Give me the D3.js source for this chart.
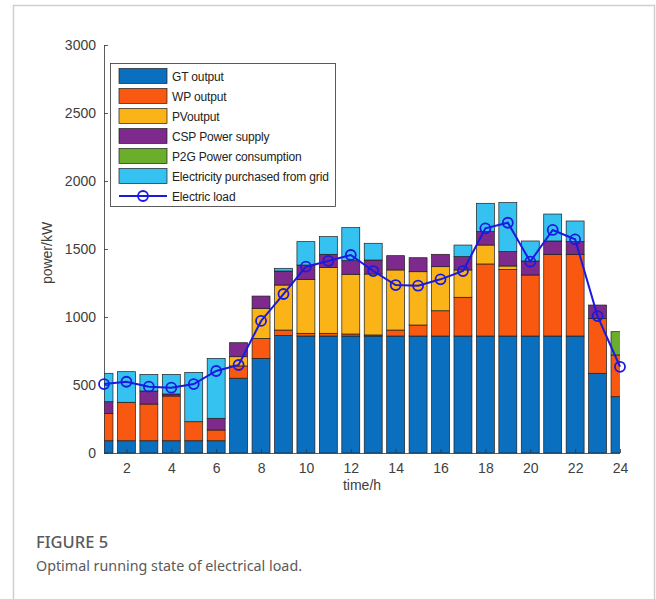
<!DOCTYPE html>
<html>
<head>
<meta charset="utf-8">
<script src="https://cdn.jsdelivr.net/npm/d3@7"></script>
<style>
  html, body { margin: 0; padding: 0; background: #fff; }
  svg { display: block; }
</style>
</head>
<body>
<svg id="chart" width="656" height="599"></svg>
<script>
// Hourly power balance (kW)
const hours = d3.range(1, 25);
const gtOutput   = [90, 90, 90, 90, 90, 90, 550, 696, 863, 860, 860, 860, 860, 860, 860, 860, 860, 860, 860, 860, 860, 860, 586, 414];
const wpOutput   = [200, 283, 270, 329, 140, 79, 90, 147, 41, 20, 20, 15, 8, 44, 81, 186, 285, 530, 490, 449, 601, 601, 404, 307];
const pvOutput   = [0, 0, 0, 0, 0, 0, 68, 221, 331, 397, 483, 439, 448, 442, 392, 324, 201, 139, 25, 0, 0, 0, 0, 0];
const cspSupply  = [87, 0, 96, 15, 0, 86, 103, 90, 103, 105, 98, 100, 103, 105, 103, 91, 98, 99, 106, 103, 98, 93, 98, 0];
const p2gConsume = [0, 0, 0, 0, 0, 0, 0, 0, 0, 0, 0, 0, 0, 0, 0, 0, 0, 0, 0, 0, 0, 0, 0, 171];
const gridBuy    = [209, 225, 122, 144, 363, 441, 0, 0, 20, 172, 130, 243, 123, 0, 0, 0, 85, 208, 360, 147, 198, 152, 0, 0];
const electricLoad = [507, 524, 488, 480, 507, 603, 647, 971, 1169, 1370, 1412, 1456, 1338, 1235, 1230, 1277, 1338, 1652, 1693, 1407, 1640, 1571, 1007, 634];

const seriesNames = ["GT output", "WP output", "PVoutput", "CSP Power supply", "P2G Power consumption", "Electricity purchased from grid"];
const seriesValues = [gtOutput, wpOutput, pvOutput, cspSupply, p2gConsume, gridBuy];
const seriesColors = ["#0a6fbe", "#f85810", "#fbb418", "#7d2a8c", "#6aae2c", "#36c2f0"];
const loadName = "Electric load";
const yTicks = [0, 500, 1000, 1500, 2000, 2500, 3000];
const xTicks = [2, 4, 6, 8, 10, 12, 14, 16, 18, 20, 22, 24];

const svg = d3.select("#chart");
const font = "'Liberation Sans', Arial, sans-serif";

// card border
svg.append("path")
  .attr("d", "M13.5,610 V5.5 H654.5 V610")
  .attr("fill", "none").attr("stroke", "#cfcfcf").attr("stroke-width", 1.5);

const x = d3.scaleLinear().domain([1, 24]).range([104, 620]);
const y = d3.scaleLinear().domain([0, 3000]).range([453, 45]);
const barW = (x(2) - x(1)) * 0.8;

// stacked data
const table = hours.map((h, i) => {
  const row = { hour: h };
  seriesNames.forEach((n, k) => row[n] = seriesValues[k][i]);
  return row;
});
const stacked = d3.stack().keys(seriesNames)(table);

svg.append("defs").append("clipPath").attr("id", "plotClip")
  .append("rect").attr("x", x(1)).attr("y", 0).attr("width", x(24) - x(1)).attr("height", 600);

const barsG = svg.append("g").attr("clip-path", "url(#plotClip)");
stacked.forEach((layer, k) => {
  barsG.append("g")
    .selectAll("rect")
    .data(layer.filter(d => d[1] - d[0] > 0))
    .join("rect")
    .attr("x", d => x(d.data.hour) - barW / 2)
    .attr("width", barW)
    .attr("y", d => y(d[1]))
    .attr("height", d => y(d[0]) - y(d[1]))
    .attr("fill", seriesColors[k])
    .attr("stroke", "#1e1e1e")
    .attr("stroke-width", 0.7);
});

// axes
const yAxis = d3.axisLeft(y).tickValues(yTicks).tickSize(-4).tickPadding(8).tickFormat(d3.format("d"));
const xAxis = d3.axisBottom(x).tickValues(xTicks).tickSize(-4).tickPadding(10).tickFormat(d3.format("d"));

const gy = svg.append("g").attr("transform", `translate(${x(1)},0)`).call(yAxis);
const gx = svg.append("g").attr("transform", `translate(0,${y(0)})`).call(xAxis);
[gx, gy].forEach(g => {
  g.attr("font-family", font);
  g.select(".domain").attr("stroke", "#333").attr("stroke-width", 0.8);
  g.selectAll(".tick line").attr("stroke", "#333").attr("stroke-width", 0.8);
  g.selectAll(".tick text").style("font-family", font).attr("font-size", 14).attr("fill", "#404040");
});
gx.select(".domain").attr("d", `M${x(1)},0.5H${x(24)}`);
gy.select(".domain").attr("d", `M0.5,${y(0)}V${y(3000)}`);

// axis titles
svg.append("text").attr("x", (x(1) + x(24)) / 2).attr("y", 490)
  .attr("text-anchor", "middle").style("font-family", font).attr("font-size", 14).attr("fill", "#404040")
  .text("time/h");
svg.append("text").attr("transform", `translate(52,${(y(0) + y(3000)) / 2 + 4}) rotate(-90)`)
  .attr("text-anchor", "middle").style("font-family", font).attr("font-size", 14).attr("fill", "#404040")
  .text("power/kW");

// load curve
const loadData = hours.map((h, i) => ({ hour: h, v: electricLoad[i] }));
const line = d3.line().x(d => x(d.hour)).y(d => y(d.v));
svg.append("path").datum(loadData).attr("d", line)
  .attr("fill", "none").attr("stroke", "#1a1ae0").attr("stroke-width", 2);
svg.append("g").selectAll("circle").data(loadData).join("circle")
  .attr("cx", d => x(d.hour)).attr("cy", d => y(d.v)).attr("r", 5)
  .attr("fill", "none").attr("stroke", "#1a1ae0").attr("stroke-width", 1.8);

// legend
const lg = svg.append("g");
lg.append("rect").attr("x", 110.5).attr("y", 63.5).attr("width", 225).attr("height", 143)
  .attr("fill", "#fff").attr("stroke", "#333").attr("stroke-width", 0.8);
const rowY = k => 76 + k * 20;
seriesNames.forEach((n, k) => {
  lg.append("rect").attr("x", 119).attr("y", rowY(k) - 7.5).attr("width", 48).attr("height", 15)
    .attr("fill", seriesColors[k]).attr("stroke", "#1e1e1e").attr("stroke-width", 0.7);
  lg.append("text").attr("x", 172).attr("y", rowY(k) + 4.5)
    .style("font-family", font).attr("font-size", 12).attr("letter-spacing", -0.15)
    .attr("fill", "#222").text(n);
});
const ly = rowY(6);
lg.append("line").attr("x1", 119).attr("x2", 167).attr("y1", ly).attr("y2", ly)
  .attr("stroke", "#1a1ae0").attr("stroke-width", 2);
lg.append("circle").attr("cx", 143).attr("cy", ly).attr("r", 5)
  .attr("fill", "none").attr("stroke", "#1a1ae0").attr("stroke-width", 1.8);
lg.append("text").attr("x", 172).attr("y", ly + 4.5)
  .style("font-family", font).attr("font-size", 12).attr("letter-spacing", -0.15)
  .attr("fill", "#222").text(loadName);

// caption
const capFont = "'Noto Sans', 'Open Sans', sans-serif";
svg.append("text").attr("x", 36).attr("y", 548)
  .style("font-family", capFont).attr("font-size", 16.5).attr("font-weight", 500).attr("fill", "#5a5a5a")
  .text("FIGURE 5");
svg.append("text").attr("x", 36).attr("y", 571)
  .style("font-family", capFont).attr("font-size", 14.3).attr("fill", "#5a5a5a")
  .text("Optimal running state of electrical load.");
</script>
</body>
</html>
